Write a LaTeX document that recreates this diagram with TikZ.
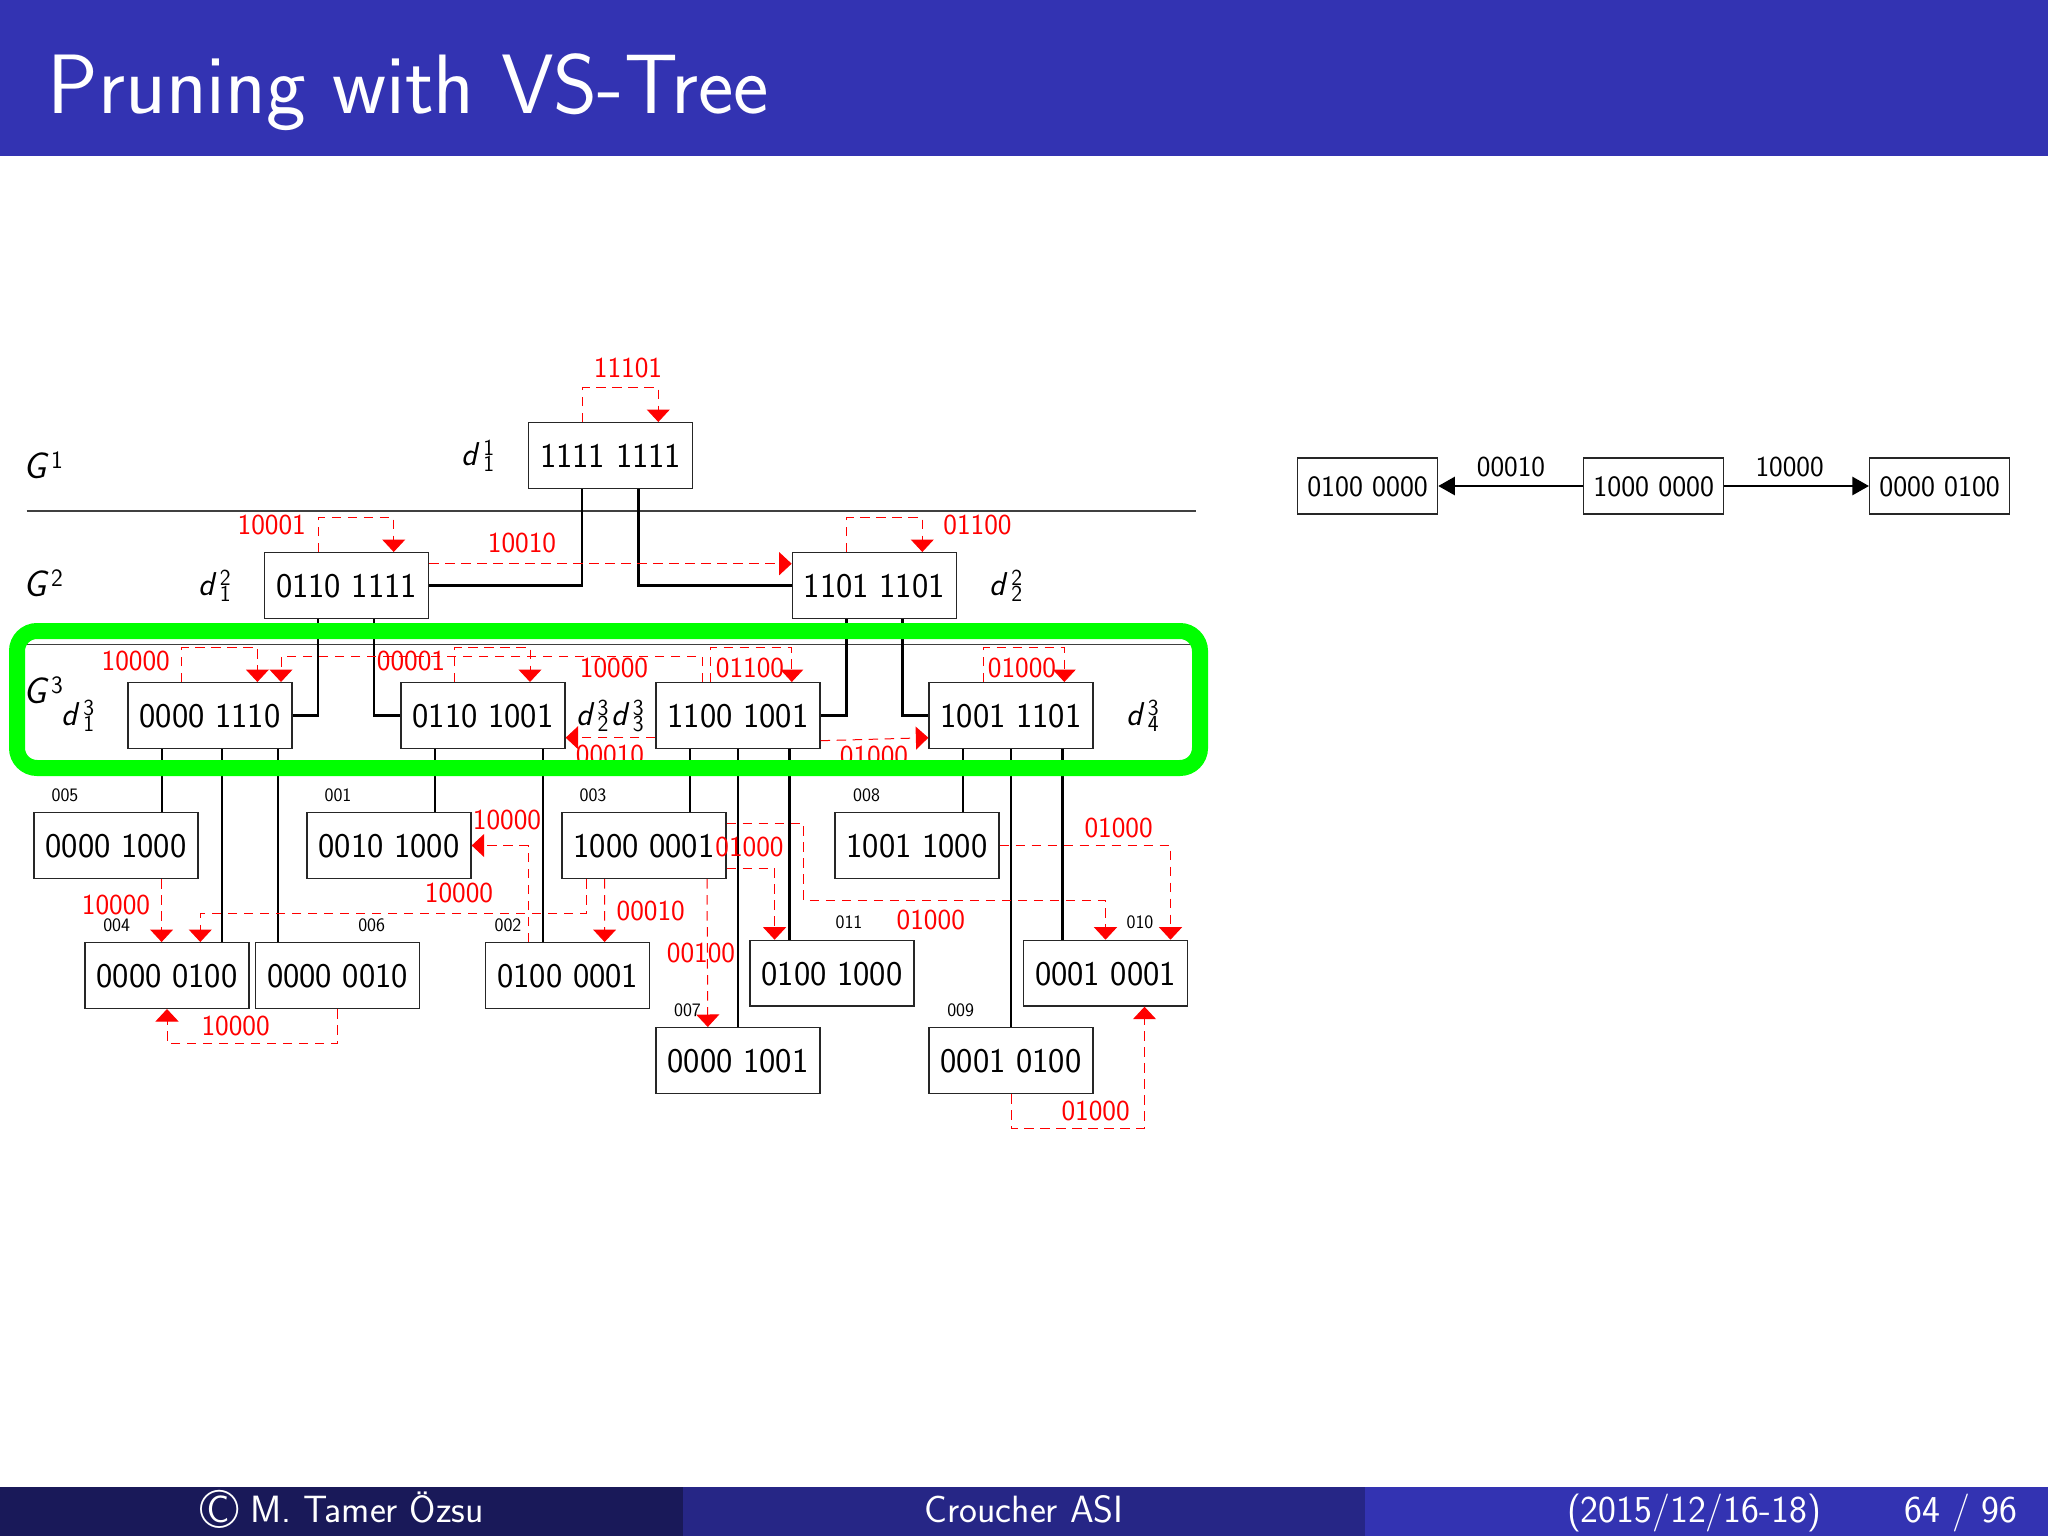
\documentclass[tikz,border=0pt]{standalone}
\usepackage{fontspec}
\usetikzlibrary{arrows.meta}
\definecolor{beamerblue}{HTML}{3333B2}
\definecolor{beamermid}{HTML}{262686}
\definecolor{beamerdark}{HTML}{191959}
\newcommand{\fs}[1]{\fontsize{#1}{#1}\selectfont}
\newcommand{\dd}[2]{\textit{d}\kern3pt\rlap{\raisebox{10pt}{\fs{23}#1}}\raisebox{-6.7pt}{\fs{23}#2}}
\newcommand{\GG}[1]{\textit{G}\kern2pt\raisebox{10pt}{\fs{25}#1}}
\tikzset{
  databox/.style={draw=black!85,line width=1.3pt,fill=white,minimum width=164pt,minimum height=65.7pt,inner sep=0pt,text height=24pt,text depth=0pt,font=\sffamily\fs{34.6},text=black},
  smallbox/.style={draw=black!85,line width=1.3pt,fill=white,minimum width=140pt,minimum height=56pt,inner sep=0pt,text height=20.4pt,text depth=0pt,font=\sffamily\fs{29.6},text=black},
  treeline/.style={draw=black,line width=2.4pt},
  redline/.style={draw=red,line width=1pt,dash pattern=on 9.5pt off 6.5pt,-{Triangle[length=12.5pt,width=23pt]}},
  redlab/.style={text=red,font=\sffamily\fs{29},inner sep=0pt,text height=19pt,text depth=0pt},
  idlab/.style={text=black,font=\sffamily\fs{19},inner sep=0pt,text height=12.4pt,text depth=0pt},
  mathlab/.style={text=black,font=\sffamily\fs{33},inner sep=0pt,anchor=base},
  glab/.style={text=black,font=\sffamily\fs{37},inner sep=0pt,anchor=base west},
  blacklab/.style={text=black,font=\sffamily\fs{29},inner sep=0pt,text height=19pt,text depth=0pt},
  foot/.style={text=white,font=\sffamily\fs{38},inner sep=0pt,anchor=base},
  rulel/.style={draw=black!75,line width=1.3pt},
  greenbox/.style={draw=green,line width=16pt,rounded corners=20pt},
  smallarrow/.style={draw=black,line width=2.4pt,-{Triangle[length=16.5pt,width=18pt]}}
}
\begin{document}
\begin{tikzpicture}[x=1pt,y=-1pt]
\useasboundingbox (0,0) rectangle (2048,1536);
% header and footer
\fill[beamerblue] (0,0) rectangle (2048,156);
\node[anchor=base west,inner sep=0pt,text=white,font=\sffamily\fs{84.3}] (title) at (47.5,113.3) {Pruning with VS-Tree};
\fill[beamerdark] (0,1487.3) rectangle (682.5,1536);
\fill[beamermid] (682.5,1487.3) rectangle (1365,1536);
\fill[beamerblue] (1365,1487.3) rectangle (2048,1536);
\node[foot] (fa) at (342,1522) {\raisebox{-6pt}{\scalebox{1.45}{\textcopyright}}\ M. Tamer Özsu};
\node[foot] (fb) at (1024,1522) {Croucher ASI};
\node[foot] (fc) at (1694,1522) {(2015/12/16-18)};
\node[foot] (fd) at (1961,1522) {64 / 96};
% rules between levels
\coordinate (r1a) at (26.5,511);
\coordinate (r1b) at (1195.7,511);
\coordinate (r2a) at (26.5,644.3);
\coordinate (r2b) at (1195.7,644.3);
\draw[rulel] (r1a) -- (r1b);
\draw[rulel] (r2a) -- (r2b);
% nodes
\node[databox] (root) at (610.6,455.5) {1111 1111};
\node[databox] (a) at (346.5,585.5) {0110 1111};
\node[databox] (b) at (874.3,585.5) {1101 1101};
\node[databox] (c) at (210,715.5) {0000 1110};
\node[databox] (d) at (483,715.5) {0110 1001};
\node[databox] (e) at (738,715.5) {1100 1001};
\node[databox] (f) at (1011,715.5) {1001 1101};
\node[databox] (g) at (116,845.5) {0000 1000};
\node[databox] (h) at (389,845.5) {0010 1000};
\node[databox] (i) at (644,845.5) {1000 0001};
\node[databox] (j) at (917,845.5) {1001 1000};
\node[databox] (k) at (167,975.5) {0000 0100};
\node[databox] (l) at (337.5,975.5) {0000 0010};
\node[databox] (m) at (567.7,975.5) {0100 0001};
\node[databox] (n) at (832,973.2) {0100 1000};
\node[databox] (o) at (1105.5,973.2) {0001 0001};
\node[databox] (p) at (738,1060.5) {0000 1001};
\node[databox] (q) at (1011,1060.5) {0001 0100};
\node[smallbox] (s1) at (1367.6,486) {0100 0000};
\node[smallbox] (s2) at (1653.7,486) {1000 0000};
\node[smallbox] (s3) at (1939.6,486) {0000 0100};
% black tree connectors
\draw[treeline] ([xshift=-28.6pt]root.south) |- (a.east);
\draw[treeline] ([xshift=27.8pt]root.south) |- (b.west);
\draw[treeline] ([xshift=-28.3pt]a.south) |- (c.east);
\draw[treeline] ([xshift=27.5pt]a.south) |- (d.west);
\draw[treeline] ([xshift=-27.9pt]b.south) |- (e.east);
\draw[treeline] ([xshift=28pt]b.south) |- (f.west);
\draw[treeline] ([xshift=-48pt]c.south) -- ([xshift=46pt]g.north);
\draw[treeline] ([xshift=12pt]c.south) -- ([xshift=55pt]k.north);
\draw[treeline] ([xshift=68pt]c.south) -- ([xshift=-59.5pt]l.north);
\draw[treeline] ([xshift=-48pt]d.south) -- ([xshift=46pt]h.north);
\draw[treeline] ([xshift=59.7pt]d.south) -- ([xshift=-25pt]m.north);
\draw[treeline] ([xshift=-48.2pt]e.south) -- ([xshift=45.8pt]i.north);
\draw[treeline] (e.south) -- (p.north);
\draw[treeline] ([xshift=51.3pt]e.south) -- ([xshift=-42.7pt]n.north);
\draw[treeline] ([xshift=-48pt]f.south) -- ([xshift=46pt]j.north);
\draw[treeline] (f.south) -- (q.north);
\draw[treeline] ([xshift=51.3pt]f.south) -- ([xshift=-43.2pt]o.north);
\draw[smallarrow] (s2.west) -- (s1.east);
\draw[smallarrow] (s2.east) -- (s3.west);
% red dashed connectors
\draw[redline] ([xshift=-28pt]root.north) -- ++(0,-34.4) -| ([xshift=47.7pt]root.north);
\draw[redline] ([xshift=-28.3pt]a.north) -- ++(0,-34.4) -| ([xshift=47.2pt]a.north);
\draw[redline] ([yshift=21.8pt]a.east) -- ([yshift=21.8pt]b.west);
\draw[redline] ([xshift=-27.5pt]b.north) -- ++(0,-34.4) -| ([xshift=48pt]b.north);
\draw[redline] ([xshift=-28.4pt]c.north) -- ++(0,-34.4) -| ([xshift=47.4pt]c.north);
\draw[redline] ([xshift=-36pt]e.north) -- ++(0,-26) -| ([xshift=71pt]c.north);
\draw[redline] ([xshift=-28.5pt]d.north) -- ++(0,-34.4) -| ([xshift=47pt]d.north);
\draw[redline] ([xshift=-28pt]e.north) -- ++(0,-34.4) -| ([xshift=53.8pt]e.north);
\draw[redline] ([xshift=-28pt]f.north) -- ++(0,-34.4) -| ([xshift=53.3pt]f.north);
\draw[redline] ([yshift=-22.2pt]e.west) -- ([yshift=-22.2pt]d.east);
\draw[redline] ([yshift=-25.2pt]e.east) -- ([yshift=-22.2pt]f.west);
\draw[redline] ([xshift=45.6pt]g.south) -- ([xshift=-5.4pt]k.north);
\draw[redline] ([xshift=-57.6pt]i.south) -- ++(0,34.7) -| ([xshift=33.3pt]k.north);
\draw[redline] ([xshift=-39.4pt]i.south) -- ([xshift=36.9pt]m.north);
\draw[redline] ([xshift=-39.7pt]m.north) |- (h.east);
\draw[redline] (l.south) -- ++(0,34.7) -| (k.south);
\draw[redline] ([xshift=63pt]i.south) -- ([xshift=-30.2pt]p.north);
\draw[redline] ([yshift=-22.5pt]i.east) -| ([xshift=-57.4pt]n.north);
\draw[redline] ([yshift=22.2pt]i.east) -- ++(77.3,0) -- ++(0,76.7) -| (o.north);
\draw[redline] (j.east) -| ([xshift=65pt]o.north);
\draw[redline] (q.south) -- ++(0,34.7) -| ([xshift=39pt]o.south);
% red labels
\node[redlab] (t1) at (628,368) {11101};
\node[redlab] (t2) at (271.8,525) {10001};
\node[redlab] (t3) at (522,543) {10010};
\node[redlab] (t4) at (977.5,525) {01100};
\node[redlab] (t5) at (135.7,660.7) {10000};
\node[redlab] (t6) at (411,660.7) {00001};
\node[redlab] (t7) at (614,668) {10000};
\node[redlab] (t8) at (750,668) {01100};
\node[redlab] (t9) at (1022,668) {01000};
\node[redlab] (t10) at (610,755) {00010};
\node[redlab] (t11) at (874,756) {01000};
\node[redlab] (t12) at (507,820) {10000};
\node[redlab] (t13) at (459,892.7) {10000};
\node[redlab] (t14) at (116,905) {10000};
\node[redlab] (t15) at (235.6,1026) {10000};
\node[redlab] (t16) at (650.7,910.7) {00010};
\node[redlab] (t17) at (749.5,847) {01000};
\node[redlab] (t18) at (701,953) {00100};
\node[redlab] (t19) at (930.8,920) {01000};
\node[redlab] (t20) at (1118.6,828) {01000};
\node[redlab] (t21) at (1095.6,1110.7) {01000};
% black edge labels of the right-hand graph
\node[blacklab] (u1) at (1511,466.7) {00010};
\node[blacklab] (u2) at (1789.6,466.7) {10000};
% vertex ids
\node[idlab] (i5) at (65,795) {005};
\node[idlab] (i1) at (338,795) {001};
\node[idlab] (i3) at (593,795) {003};
\node[idlab] (i8) at (866.6,795) {008};
\node[idlab] (i4) at (116.7,925) {004};
\node[idlab] (i6) at (371.7,925) {006};
\node[idlab] (i2) at (508,925) {002};
\node[idlab] (i11) at (849,922.7) {011};
\node[idlab] (i10) at (1140,922.7) {010};
\node[idlab] (i7) at (687.5,1010) {007};
\node[idlab] (i9) at (960.7,1010) {009};
% level and supernode labels
\node[glab] (g1) at (23.5,478) {\GG{1}};
\node[glab] (g2) at (23.5,596.7) {\GG{2}};
\node[glab] (g3) at (23.5,703) {\GG{3}};
\node[mathlab] (d11) at (478,465) {\dd{1}{1}};
\node[mathlab] (d21) at (214.6,595) {\dd{2}{1}};
\node[mathlab] (d22) at (1006,595) {\dd{2}{2}};
\node[mathlab] (d31) at (78,725) {\dd{3}{1}};
\node[mathlab] (d32) at (592.4,725) {\dd{3}{2}};
\node[mathlab] (d33) at (627.7,725) {\dd{3}{3}};
\node[mathlab] (d34) at (1142.6,725) {\dd{3}{4}};
% highlight
\draw[greenbox] (17,631) rectangle (1200,768);
\end{tikzpicture}
\end{document}
